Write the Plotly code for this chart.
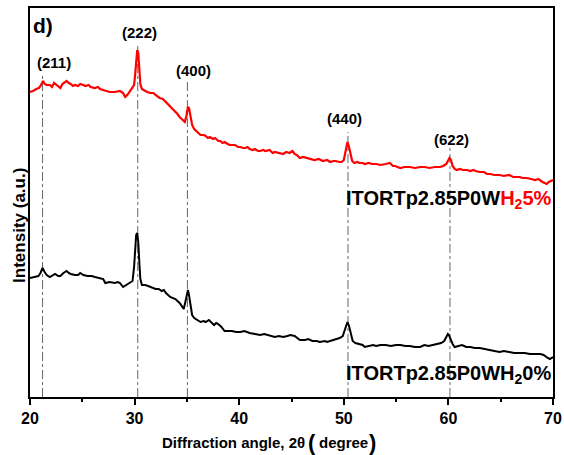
import plotly.graph_objects as go

# ---- data (2theta in degrees, intensity in arbitrary units) ----
two_theta_h2_5 = [20.0, 20.3, 20.6, 20.85, 21.0, 21.15, 21.25, 21.4, 21.6, 21.9, 22.1, 22.3, 22.5, 22.7, 22.9,
                  23.1, 23.3, 23.5, 23.7, 23.9, 24.1, 24.3, 24.6, 24.8, 25.1, 25.3, 25.6, 25.8,
                  26.2, 26.5, 26.7, 27.0, 27.2, 27.6, 28.1, 28.6, 28.9, 29.1, 29.3, 29.6, 29.8, 29.95,
                  30.05, 30.15, 30.25, 30.35, 30.45, 30.55, 30.7, 31.0, 31.2, 31.5, 31.8, 32.0, 32.4,
                  32.7, 32.9, 33.2, 33.4, 33.7, 33.9, 34.1, 34.3, 34.6, 34.8, 34.95, 35.1, 35.2, 35.35,
                  35.5, 35.7, 35.9, 36.1, 36.3, 36.6, 36.8, 37.0, 37.2, 37.5, 37.7, 38.0, 38.2, 38.4,
                  38.6, 38.9, 39.1, 39.4, 39.6, 39.9, 40.1, 40.4, 40.6, 40.8, 41.0, 41.3, 41.5, 41.8,
                  42.0, 42.3, 42.5, 42.9, 43.2, 43.4, 43.7, 43.9, 44.2, 44.5, 44.8, 45.1, 45.3, 45.5,
                  45.8, 46.1, 46.5, 46.8, 47.2, 47.6, 48.0, 48.4, 48.7, 49.0, 49.2, 49.6, 49.8, 50.0,
                  50.2, 50.35, 50.5, 50.65, 50.8, 51.0, 51.3, 51.5, 51.8, 52.0, 52.4, 52.7, 53.1, 53.5,
                  53.8, 54.0, 54.4, 54.7, 54.9, 55.4, 55.8, 56.3, 56.8, 57.3, 57.7, 58.2, 58.7, 59.2,
                  59.5, 59.8, 59.95, 60.1, 60.25, 60.4, 60.6, 60.8, 61.1, 61.4, 61.8, 62.1, 62.4, 62.6,
                  63.0, 63.4, 63.7, 64.0, 64.4, 64.9, 65.3, 65.8, 66.2, 66.8, 67.1, 67.5, 67.9, 68.3,
                  68.6, 68.8, 69.0, 69.2, 69.4, 69.6, 69.8, 70.0]
intensity_h2_5 = [305, 306, 308, 309, 311, 315, 316, 313, 312, 312, 310, 314, 312, 311, 309,
                  313, 315, 316, 314, 313, 311, 312, 311, 313, 312, 311, 312, 310,
                  309, 310, 308, 307, 307, 305, 305, 306, 304, 300, 302, 307, 309, 312,
                  322, 338, 347, 344, 328, 313, 308, 306, 305, 304, 304, 302, 299,
                  298, 296, 293, 290, 288, 286, 283, 280, 277, 275, 281, 290, 289, 279,
                  272, 268, 266, 264, 262, 262, 261, 259, 260, 258, 259, 256, 256, 254,
                  255, 253, 252, 252, 252, 250, 250, 249, 249, 250, 248, 247, 248, 246,
                  246, 247, 246, 247, 244, 245, 244, 244, 243, 245, 244, 246, 243, 242,
                  239, 240, 239, 238, 237, 238, 236, 237, 235, 236, 236, 235, 235, 237,
                  246, 255, 250, 241, 236, 234, 235, 234, 234, 233, 234, 233, 233, 232,
                  233, 233, 234, 231, 231, 229, 230, 230, 229, 230, 230, 229, 230, 230,
                  231, 233, 236, 239, 237, 231, 228, 227, 228, 227, 227, 226, 227, 226,
                  225, 225, 223, 223, 222, 222, 221, 222, 220, 220, 219, 219, 218, 217,
                  218, 216, 215, 214, 213, 215, 216, 217]

two_theta_h2_0 = [20.0, 20.4, 20.8, 21.0, 21.2, 21.4, 21.6, 21.9, 22.2, 22.4, 22.7, 22.9, 23.2, 23.5,
                  23.7, 23.9, 24.3, 24.6, 24.8, 25.1, 25.5, 25.9, 26.2, 26.7, 27.0, 27.2, 27.6, 28.1,
                  28.4, 28.6, 28.9, 29.2, 29.5, 29.8, 29.95, 30.05, 30.15, 30.25, 30.35, 30.45, 30.55,
                  30.7, 31.0, 31.3, 31.5, 31.8, 32.0, 32.3, 32.6, 32.8, 33.0, 33.4, 33.7, 33.9, 34.3,
                  34.5, 34.7, 34.85, 35.0, 35.1, 35.2, 35.35, 35.5, 35.7, 36.0, 36.3, 36.6, 36.8,
                  37.1, 37.4, 37.6, 37.8, 38.0, 38.3, 38.6, 39.0, 39.3, 39.7, 40.1, 40.5, 41.0, 41.5,
                  42.0, 42.4, 42.7, 43.1, 43.4, 43.8, 44.2, 44.6, 44.9, 45.3, 45.8, 46.3, 46.6, 47.0,
                  47.4, 47.7, 48.2, 48.4, 48.7, 49.2, 49.6, 49.9, 50.1, 50.25, 50.35, 50.5, 50.65,
                  50.85, 51.1, 51.5, 51.8, 52.0, 52.4, 52.8, 53.1, 53.5, 54.0, 54.5, 55.0, 55.4, 55.9,
                  56.3, 56.8, 57.3, 57.7, 58.1, 58.5, 58.9, 59.3, 59.6, 59.8, 59.95, 60.05, 60.2, 60.4,
                  60.6, 61.0, 61.3, 61.5, 61.7, 62.1, 62.5, 63.0, 63.4, 63.7, 64.0, 64.4, 64.9, 65.3,
                  65.8, 66.3, 66.8, 67.3, 67.8, 68.3, 68.8, 69.1, 69.3, 69.5, 69.7, 70.0]
intensity_h2_0 = [119, 120, 121, 124, 129, 125, 122, 120, 122, 123, 121, 121, 124, 126,
                  124, 123, 122, 122, 124, 122, 121, 121, 120, 119, 118, 114, 115, 114,
                  115, 114, 110, 112, 114, 116, 130, 148, 162, 164, 155, 135, 118,
                  112, 112, 111, 110, 109, 108, 108, 106, 107, 104, 100, 99, 98, 94,
                  91, 88, 95, 105, 107, 102, 92, 82, 79, 77, 75, 76, 75,
                  77, 74, 72, 74, 73, 70, 66, 66, 66, 65, 65, 66, 64, 63,
                  62, 63, 62, 61, 60, 61, 60, 61, 62, 61, 57, 57, 58, 56,
                  56, 55, 56, 55, 56, 58, 59, 61, 67, 73, 75, 71, 63,
                  56, 54, 53, 52, 50, 51, 52, 51, 52, 52, 51, 52, 52, 51,
                  51, 50, 50, 52, 51, 52, 53, 54, 56, 60, 63, 62, 58, 53,
                  50, 51, 52, 51, 50, 50, 49, 49, 48, 47, 47, 46, 45, 46,
                  45, 44, 44, 44, 43, 43, 43, 42, 40, 39, 38, 40]

peak_positions = [21.2, 30.3, 35.05, 50.4, 60.15]
peak_line_tops = [324, 354, 315, 265, 250]
peak_labels = ["(211)", "(222)", "(400)", "(440)", "(622)"]
peak_label_x = [22.3, 30.5, 35.6, 50.1, 60.3]
peak_label_y = [335, 365, 327, 279, 258]

x_ticks = [20, 30, 40, 50, 60, 70]
x_tick_labels = ["20", "30", "40", "50", "60", "70"]

FONT = "Arial, Liberation Sans, sans-serif"

fig = go.Figure()

# reference dash-dot lines at the reflections
for xp, top in zip(peak_positions, peak_line_tops):
    fig.add_trace(go.Scatter(x=[xp, xp], y=[0, top], mode="lines",
                             line=dict(color="#666666", width=1, dash="dashdot"),
                             showlegend=False, hoverinfo="skip"))

fig.add_trace(go.Scatter(x=two_theta_h2_0, y=intensity_h2_0, mode="lines",
                         line=dict(color="black", width=2), name="H2 0%", showlegend=False))
fig.add_trace(go.Scatter(x=two_theta_h2_5, y=intensity_h2_5, mode="lines",
                         line=dict(color="#FF0000", width=2.2), name="H2 5%", showlegend=False))

annotations = []
for lab, lx, ly in zip(peak_labels, peak_label_x, peak_label_y):
    annotations.append(dict(x=lx, y=ly, text="<b>" + lab + "</b>", showarrow=False,
                            font=dict(family=FONT, size=15, color="black"),
                            xanchor="center", yanchor="middle"))

annotations.append(dict(x=0.002, y=0.99, xref="paper", yref="paper", text="<b>d)</b>",
                        showarrow=False, xanchor="left", yanchor="top",
                        font=dict(family=FONT, size=21, color="black")))
annotations.append(dict(x=70, y=198, text="<b>ITORTp2.85P0W<span style='color:#FF0000'>H<sub>2</sub>5%</span></b>",
                        showarrow=False, xanchor="right", yanchor="middle",
                        font=dict(family=FONT, size=20, color="black")))
annotations.append(dict(x=70, y=23, text="<b>ITORTp2.85P0WH<sub>2</sub>0%</b>",
                        showarrow=False, xanchor="right", yanchor="middle",
                        font=dict(family=FONT, size=20, color="black")))

# x-axis title, built from pieces so the parentheses can be drawn larger
title_y = -0.116
annotations.append(dict(x=0.5296, y=title_y, xref="paper", yref="paper",
                        text="<b>Diffraction angle, 2θ</b>",
                        showarrow=False, xanchor="right", yanchor="middle",
                        font=dict(family=FONT, size=15, color="black")))
annotations.append(dict(x=0.539, y=title_y, xref="paper", yref="paper", text="<b>(</b>",
                        showarrow=False, xanchor="center", yanchor="middle",
                        font=dict(family=FONT, size=22, color="black")))
annotations.append(dict(x=0.5985, y=title_y, xref="paper", yref="paper", text="<b>degree</b>",
                        showarrow=False, xanchor="center", yanchor="middle",
                        font=dict(family=FONT, size=15, color="black")))
annotations.append(dict(x=0.6555, y=title_y, xref="paper", yref="paper", text="<b>)</b>",
                        showarrow=False, xanchor="center", yanchor="middle",
                        font=dict(family=FONT, size=22, color="black")))

annotations.append(dict(x=-0.019, y=0.44, xref="paper", yref="paper",
                        text="<b>Intensity (a.u.)</b>", textangle=-90,
                        showarrow=False, xanchor="center", yanchor="middle",
                        font=dict(family=FONT, size=17, color="black")))

fig.update_layout(
    width=564, height=455,
    margin=dict(l=30, r=11, t=8, b=58),
    plot_bgcolor="white", paper_bgcolor="white",
    annotations=annotations,
    xaxis=dict(range=[20, 70], tickvals=x_ticks, ticktext=["<b>" + t + "</b>" for t in x_tick_labels],
               automargin=False, ticklabeloverflow="allow",
               ticks="outside", ticklen=6, tickwidth=1.5, tickcolor="black",
               minor=dict(ticks="outside", ticklen=3, tickwidth=1.5, tickcolor="black", dtick=5),
               showline=True, linecolor="black", linewidth=2, mirror=True,
               showgrid=False, zeroline=False,
               tickfont=dict(family=FONT, size=16, color="black")),
    yaxis=dict(range=[0, 389], showticklabels=False, ticks="", automargin=False,
               showline=True, linecolor="black", linewidth=2, mirror=True,
               showgrid=False, zeroline=False),
)

# remove the page's default body margin so the figure fills the window exactly
fig.write_html("out.html", config={"displayModeBar": False},
               post_script="document.body.style.margin='0';document.body.style.overflow='hidden';")
